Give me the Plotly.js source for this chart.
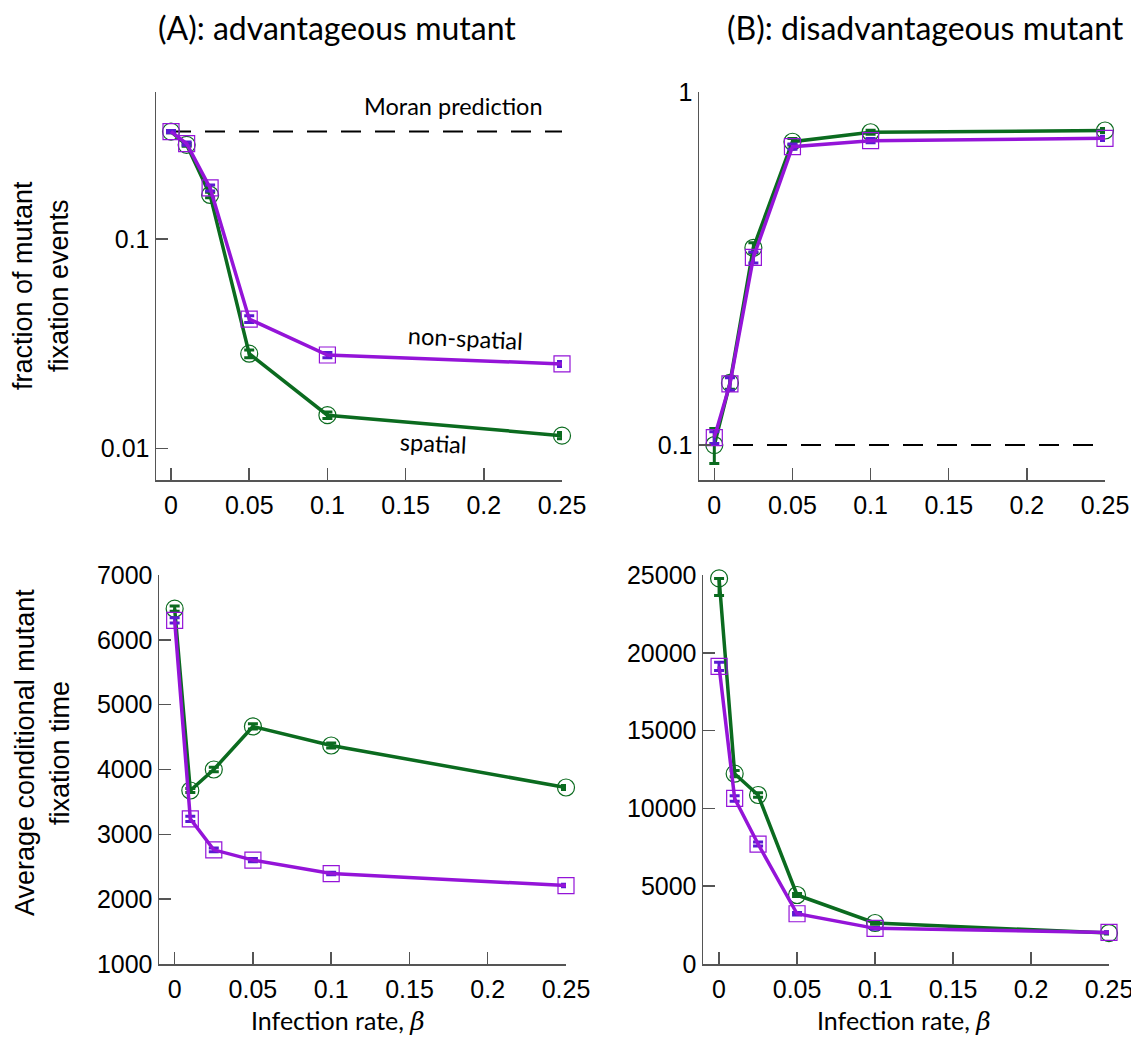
<!DOCTYPE html>
<html>
<head>
<meta charset="utf-8">
<script src="https://cdn.plot.ly/plotly-3.0.1.min.js"></script>
<style>html,body{margin:0;padding:0;background:#fff;}</style>
</head>
<body>
<div id="chart" style="width:1131px;height:1051px;"></div>
<script>
// ---- data ----
const beta = [0, 0.01, 0.025, 0.05, 0.1, 0.25];
const xTickVals = [0, 0.05, 0.1, 0.15, 0.2, 0.25];
const xTickText = ['0', '0.05', '0.1', '0.15', '0.2', '0.25'];

// (A) advantageous: fraction of fixation events
const advFixSpatial = [0.325, 0.281, 0.162, 0.0283, 0.0144, 0.0115];
const advFixSpatialErr = [0.004, 0.004, 0.005, 0.0012, 0.0005, 0.0004];
const advFixNonSpatial = [0.325, 0.285, 0.175, 0.0414, 0.0279, 0.0253];
const advFixNonSpatialErr = [0.004, 0.005, 0.006, 0.0015, 0.0008, 0.0007];
const advMoran = 0.325;

// (B) disadvantageous: fraction of fixation events
const disFixSpatial = [0.100, 0.150, 0.362, 0.723, 0.769, 0.778];
const disFixSpatialErr = [0.0114, 0.006, 0.012, 0.015, 0.010, 0.010];
const disFixNonSpatial = [0.105, 0.149, 0.340, 0.700, 0.728, 0.739];
const disFixNonSpatialErr = [0.004, 0.006, 0.012, 0.012, 0.010, 0.010];
const disMoran = 0.1;

// (A) advantageous: conditional fixation time
const advTimeSpatial = [6480, 3676, 4000, 4664, 4370, 3722];
const advTimeSpatialErr = [40, 30, 35, 40, 40, 30];
const advTimeNonSpatial = [6300, 3239, 2761, 2602, 2395, 2210];
const advTimeNonSpatialErr = [40, 40, 30, 25, 20, 20];

// (B) disadvantageous: conditional fixation time
const disTimeSpatial = [24780, 12230, 10860, 4434, 2635, 1990];
const disTimeSpatialErrPlus = [0, 200, 150, 100, 80, 60];
const disTimeSpatialErrMinus = [1100, 200, 150, 100, 80, 60];
const disTimeNonSpatial = [19126, 10640, 7710, 3230, 2290, 2030];
const disTimeNonSpatialErr = [270, 180, 130, 80, 60, 50];

const timeTicksA = [1000, 2000, 3000, 4000, 5000, 6000, 7000];
const timeTicksB = [0, 5000, 10000, 15000, 20000, 25000];

// ---- styles ----
const GREEN = '#0b6b1f';
const PURPLE = '#9414d8';
const PURPLE_ERR = '#5a1ad2';
const W = 1131, H = 1051;
const px = v => v / W;
const py = v => 1 - v / H;

function spatial(y, err, xa, ya, errMinus) {
  const e = {type: 'data', array: err, color: GREEN, thickness: 3, width: 5, visible: true};
  if (errMinus) { e.symmetric = false; e.arrayminus = errMinus; }
  return {
    x: beta, y: y, xaxis: xa, yaxis: ya, type: 'scatter', mode: 'lines+markers',
    line: {color: GREEN, width: 3.5},
    marker: {symbol: 'circle-open', size: 17, color: GREEN, line: {width: 1.2, color: GREEN}},
    error_y: e, cliponaxis: false, hoverinfo: 'x+y'
  };
}
function nonSpatial(y, err, xa, ya) {
  return {
    x: beta, y: y, xaxis: xa, yaxis: ya, type: 'scatter', mode: 'lines+markers',
    line: {color: PURPLE, width: 3.5},
    marker: {symbol: 'square-open', size: 16, color: PURPLE, line: {width: 1.2, color: '#a64be0'}},
    error_y: {type: 'data', array: err, color: PURPLE_ERR, thickness: 3, width: 5, visible: true},
    cliponaxis: false, hoverinfo: 'x+y'
  };
}
function dashed(x, yv, xa, ya) {
  return {x: x, y: [yv, yv], xaxis: xa, yaxis: ya, type: 'scatter', mode: 'lines',
    line: {color: '#000', width: 2, dash: '20px,14px'}, hoverinfo: 'skip', cliponaxis: false};
}

const traces = [
  dashed([0, 0.25], advMoran, 'x', 'y'),
  spatial(advFixSpatial, advFixSpatialErr, 'x', 'y'),
  nonSpatial(advFixNonSpatial, advFixNonSpatialErr, 'x', 'y'),
  dashed([-0.0098, 0.25], disMoran, 'x2', 'y2'),
  spatial(disFixSpatial, disFixSpatialErr, 'x2', 'y2'),
  nonSpatial(disFixNonSpatial, disFixNonSpatialErr, 'x2', 'y2'),
  spatial(advTimeSpatial, advTimeSpatialErr, 'x3', 'y3'),
  nonSpatial(advTimeNonSpatial, advTimeNonSpatialErr, 'x3', 'y3'),
  spatial(disTimeSpatial, disTimeSpatialErrPlus, 'x4', 'y4', disTimeSpatialErrMinus),
  nonSpatial(disTimeNonSpatial, disTimeNonSpatialErr, 'x4', 'y4')
];

const tickFont = {family: '"Liberation Sans", Arial, sans-serif', size: 25, color: '#000'};
function xax(d0, d1, r0, anchor) {
  return {domain: [px(d0), px(d1)], range: [r0, 0.25], anchor: anchor,
    tickvals: xTickVals, ticktext: xTickText, ticks: 'inside', ticklen: 12, tickwidth: 1.5,
    tickcolor: '#555', showline: true, linecolor: '#555', linewidth: 1.5,
    showgrid: false, zeroline: false, tickfont: tickFont, ticklabelstandoff: 2,
    ticklabeloverflow: 'allow'};
}
function yax(t0, t1, extra, anchor) {
  return Object.assign({domain: [py(t1), py(t0)], anchor: anchor,
    ticks: 'inside', ticklen: 12, tickwidth: 1.5, tickcolor: '#555',
    showline: true, linecolor: '#555', linewidth: 1.5,
    showgrid: false, zeroline: false, tickfont: tickFont, ticklabeloverflow: 'allow'}, extra);
}

const titleFont = {family: 'Lato, "Open Sans", sans-serif', size: 32, color: '#000'};
const labFont = {family: 'Lato, "Open Sans", sans-serif', size: 25, color: '#000'};
const yTitleFont = {family: '"Liberation Sans", Arial, sans-serif', size: 27, color: '#000'};
const noteFont = {family: 'Lato, "Open Sans", sans-serif', size: 23.5, color: '#000'};
const betaTxt = 'Infection rate, <span style="font-family:DejaVu Serif;font-style:italic">β</span>';

function ann(text, x, y, font, angle) {
  return {text: text, x: px(x), y: py(y), xref: 'paper', yref: 'paper', showarrow: false,
    xanchor: 'center', yanchor: 'middle', font: font, textangle: angle || 0};
}

const layout = {
  width: W, height: H, margin: {l: 0, r: 0, t: 0, b: 0},
  paper_bgcolor: '#fff', plot_bgcolor: '#fff', showlegend: false,
  xaxis: xax(156, 562, -0.0096, 'y'),
  yaxis: yax(92, 480, {type: 'log', range: [-2.151, -0.299], tickvals: [0.01, 0.1], ticktext: ['0.01', '0.1']}, 'x'),
  xaxis2: xax(699, 1105, -0.0098, 'y2'),
  yaxis2: yax(92, 480, {type: 'log', range: [-1.099, 0], tickvals: [0.1, 1], ticktext: ['0.1', '1']}, 'x2'),
  xaxis3: xax(159, 566, -0.010, 'y3'),
  yaxis3: yax(575, 964, {range: [1000, 7000], tickvals: timeTicksA, ticktext: timeTicksA.map(String)}, 'x3'),
  xaxis4: xax(703, 1109, -0.0103, 'y4'),
  yaxis4: yax(575, 964, {range: [0, 25000], tickvals: timeTicksB, ticktext: timeTicksB.map(String)}, 'x4'),
  annotations: [
    ann('(A): advantageous mutant', 337, 28, titleFont),
    ann('(B): disadvantageous mutant', 925, 28, titleFont),
    ann(betaTxt, 338, 1020, labFont),
    ann(betaTxt, 904, 1020, labFont),
    ann('fraction of mutant', 23, 286, yTitleFont, -90),
    ann('fixation events', 59, 286, yTitleFont, -90),
    ann('Average conditional mutant', 25, 753, yTitleFont, -90),
    ann('fixation time', 60, 753, yTitleFont, -90),
    ann('Moran prediction', 453, 106, noteFont),
    ann('non-spatial', 465, 338, noteFont, 3),
    ann('spatial', 433, 443, noteFont, 3)
  ]
};

Plotly.newPlot('chart', traces, layout, {displayModeBar: false, staticPlot: true});
</script>
</body>
</html>
